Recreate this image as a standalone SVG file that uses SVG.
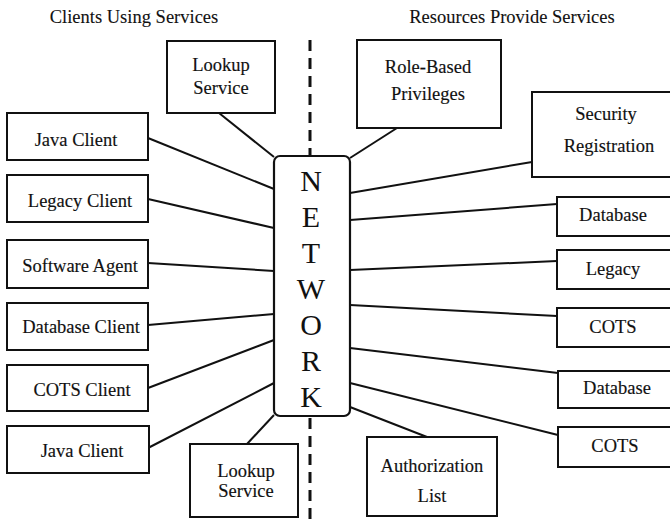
<svg xmlns="http://www.w3.org/2000/svg" width="670" height="524" viewBox="0 0 670 524">
<style>
.box{fill:#fff;stroke:#111;stroke-width:2}
.t{font-family:"Liberation Serif","DejaVu Serif",serif;font-size:18.5px;fill:#111;text-anchor:middle;stroke:#111;stroke-width:0.15}
.h{font-family:"Liberation Serif","DejaVu Serif",serif;font-size:18.5px;fill:#111;text-anchor:middle;stroke:#111;stroke-width:0.1}
.net{font-family:"Liberation Serif","DejaVu Serif",serif;font-size:30px;fill:#111;text-anchor:middle}
.c line{stroke:#111;stroke-width:2}
.dash{stroke:#111;stroke-width:3;stroke-dasharray:11 7}
</style>
<rect width="670" height="524" fill="#fff"/>
<text class="h" x="134" y="23">Clients Using Services</text>
<text class="h" x="512" y="23">Resources Provide Services</text>
<g id="divider">
<line class="dash" x1="310" y1="40" x2="310" y2="156"/>
<line class="dash" x1="310" y1="418" x2="310" y2="524"/>
</g>
<g class="c" id="connectors">
<line x1="219" y1="113" x2="274" y2="157"/>
<line x1="148" y1="138" x2="274" y2="189"/>
<line x1="148" y1="199" x2="274" y2="228"/>
<line x1="148" y1="263" x2="274" y2="271"/>
<line x1="148" y1="325" x2="274" y2="314"/>
<line x1="148" y1="388" x2="274" y2="340"/>
<line x1="148" y1="448" x2="274" y2="383"/>
<line x1="247" y1="444" x2="274" y2="415"/>
<line x1="397" y1="128" x2="350" y2="158"/>
<line x1="532" y1="162" x2="350" y2="193"/>
<line x1="557" y1="204" x2="350" y2="220"/>
<line x1="557" y1="261" x2="350" y2="270"/>
<line x1="557" y1="316" x2="350" y2="305"/>
<line x1="558" y1="373" x2="350" y2="348"/>
<line x1="558" y1="435" x2="350" y2="383"/>
<line x1="427" y1="437" x2="350" y2="407"/>
</g>
<g id="network">
<rect x="274" y="156" width="76" height="260" rx="6" fill="#fff" stroke="#111" stroke-width="2.2"/>
<text class="net" x="311" y="191">N</text>
<text class="net" x="311" y="227">E</text>
<text class="net" x="311" y="263">T</text>
<text class="net" x="311" y="299">W</text>
<text class="net" x="311" y="335">O</text>
<text class="net" x="311" y="371">R</text>
<text class="net" x="311" y="407">K</text>
</g>
<g id="lookup-top"><rect class="box" x="167" y="41" width="108" height="72"/><text class="t" x="221" y="71">Lookup</text><text class="t" x="221" y="94">Service</text></g>
<g id="java-client-1"><rect class="box" x="7" y="113" width="141" height="47"/><text class="t" x="76" y="146">Java Client</text></g>
<g id="legacy-client"><rect class="box" x="7" y="175" width="141" height="47"/><text class="t" x="80" y="207">Legacy Client</text></g>
<g id="software-agent"><rect class="box" x="7" y="240" width="141" height="48"/><text class="t" x="80" y="272">Software Agent</text></g>
<g id="database-client"><rect class="box" x="7" y="303" width="141" height="47"/><text class="t" x="81" y="333">Database Client</text></g>
<g id="cots-client"><rect class="box" x="7" y="365" width="141" height="46"/><text class="t" x="82" y="396">COTS Client</text></g>
<g id="java-client-2"><rect class="box" x="7" y="426" width="142" height="47"/><text class="t" x="82" y="457">Java Client</text></g>
<g id="lookup-bottom"><rect class="box" x="190" y="444" width="108" height="73"/><text class="t" x="246" y="477">Lookup</text><text class="t" x="246" y="497">Service</text></g>
<g id="role-based"><rect class="box" x="357" y="40" width="144" height="88"/><text class="t" x="428" y="73">Role-Based</text><text class="t" x="428" y="100">Privileges</text></g>
<g id="security-registration"><rect class="box" x="532" y="92" width="145" height="85"/><text class="t" x="606" y="120">Security</text><text class="t" x="609" y="152">Registration</text></g>
<g id="database-1"><rect class="box" x="557" y="197" width="120" height="39"/><text class="t" x="613" y="221">Database</text></g>
<g id="legacy"><rect class="box" x="557" y="250" width="120" height="39"/><text class="t" x="613" y="275">Legacy</text></g>
<g id="cots-1"><rect class="box" x="557" y="308" width="120" height="39"/><text class="t" x="613" y="333">COTS</text></g>
<g id="database-2"><rect class="box" x="558" y="371" width="120" height="37"/><text class="t" x="617" y="394">Database</text></g>
<g id="cots-2"><rect class="box" x="558" y="427" width="120" height="40"/><text class="t" x="615" y="452">COTS</text></g>
<g id="authorization-list"><rect class="box" x="367" y="437" width="130" height="79"/><text class="t" x="432" y="472">Authorization</text><text class="t" x="432" y="502">List</text></g>
</svg>
